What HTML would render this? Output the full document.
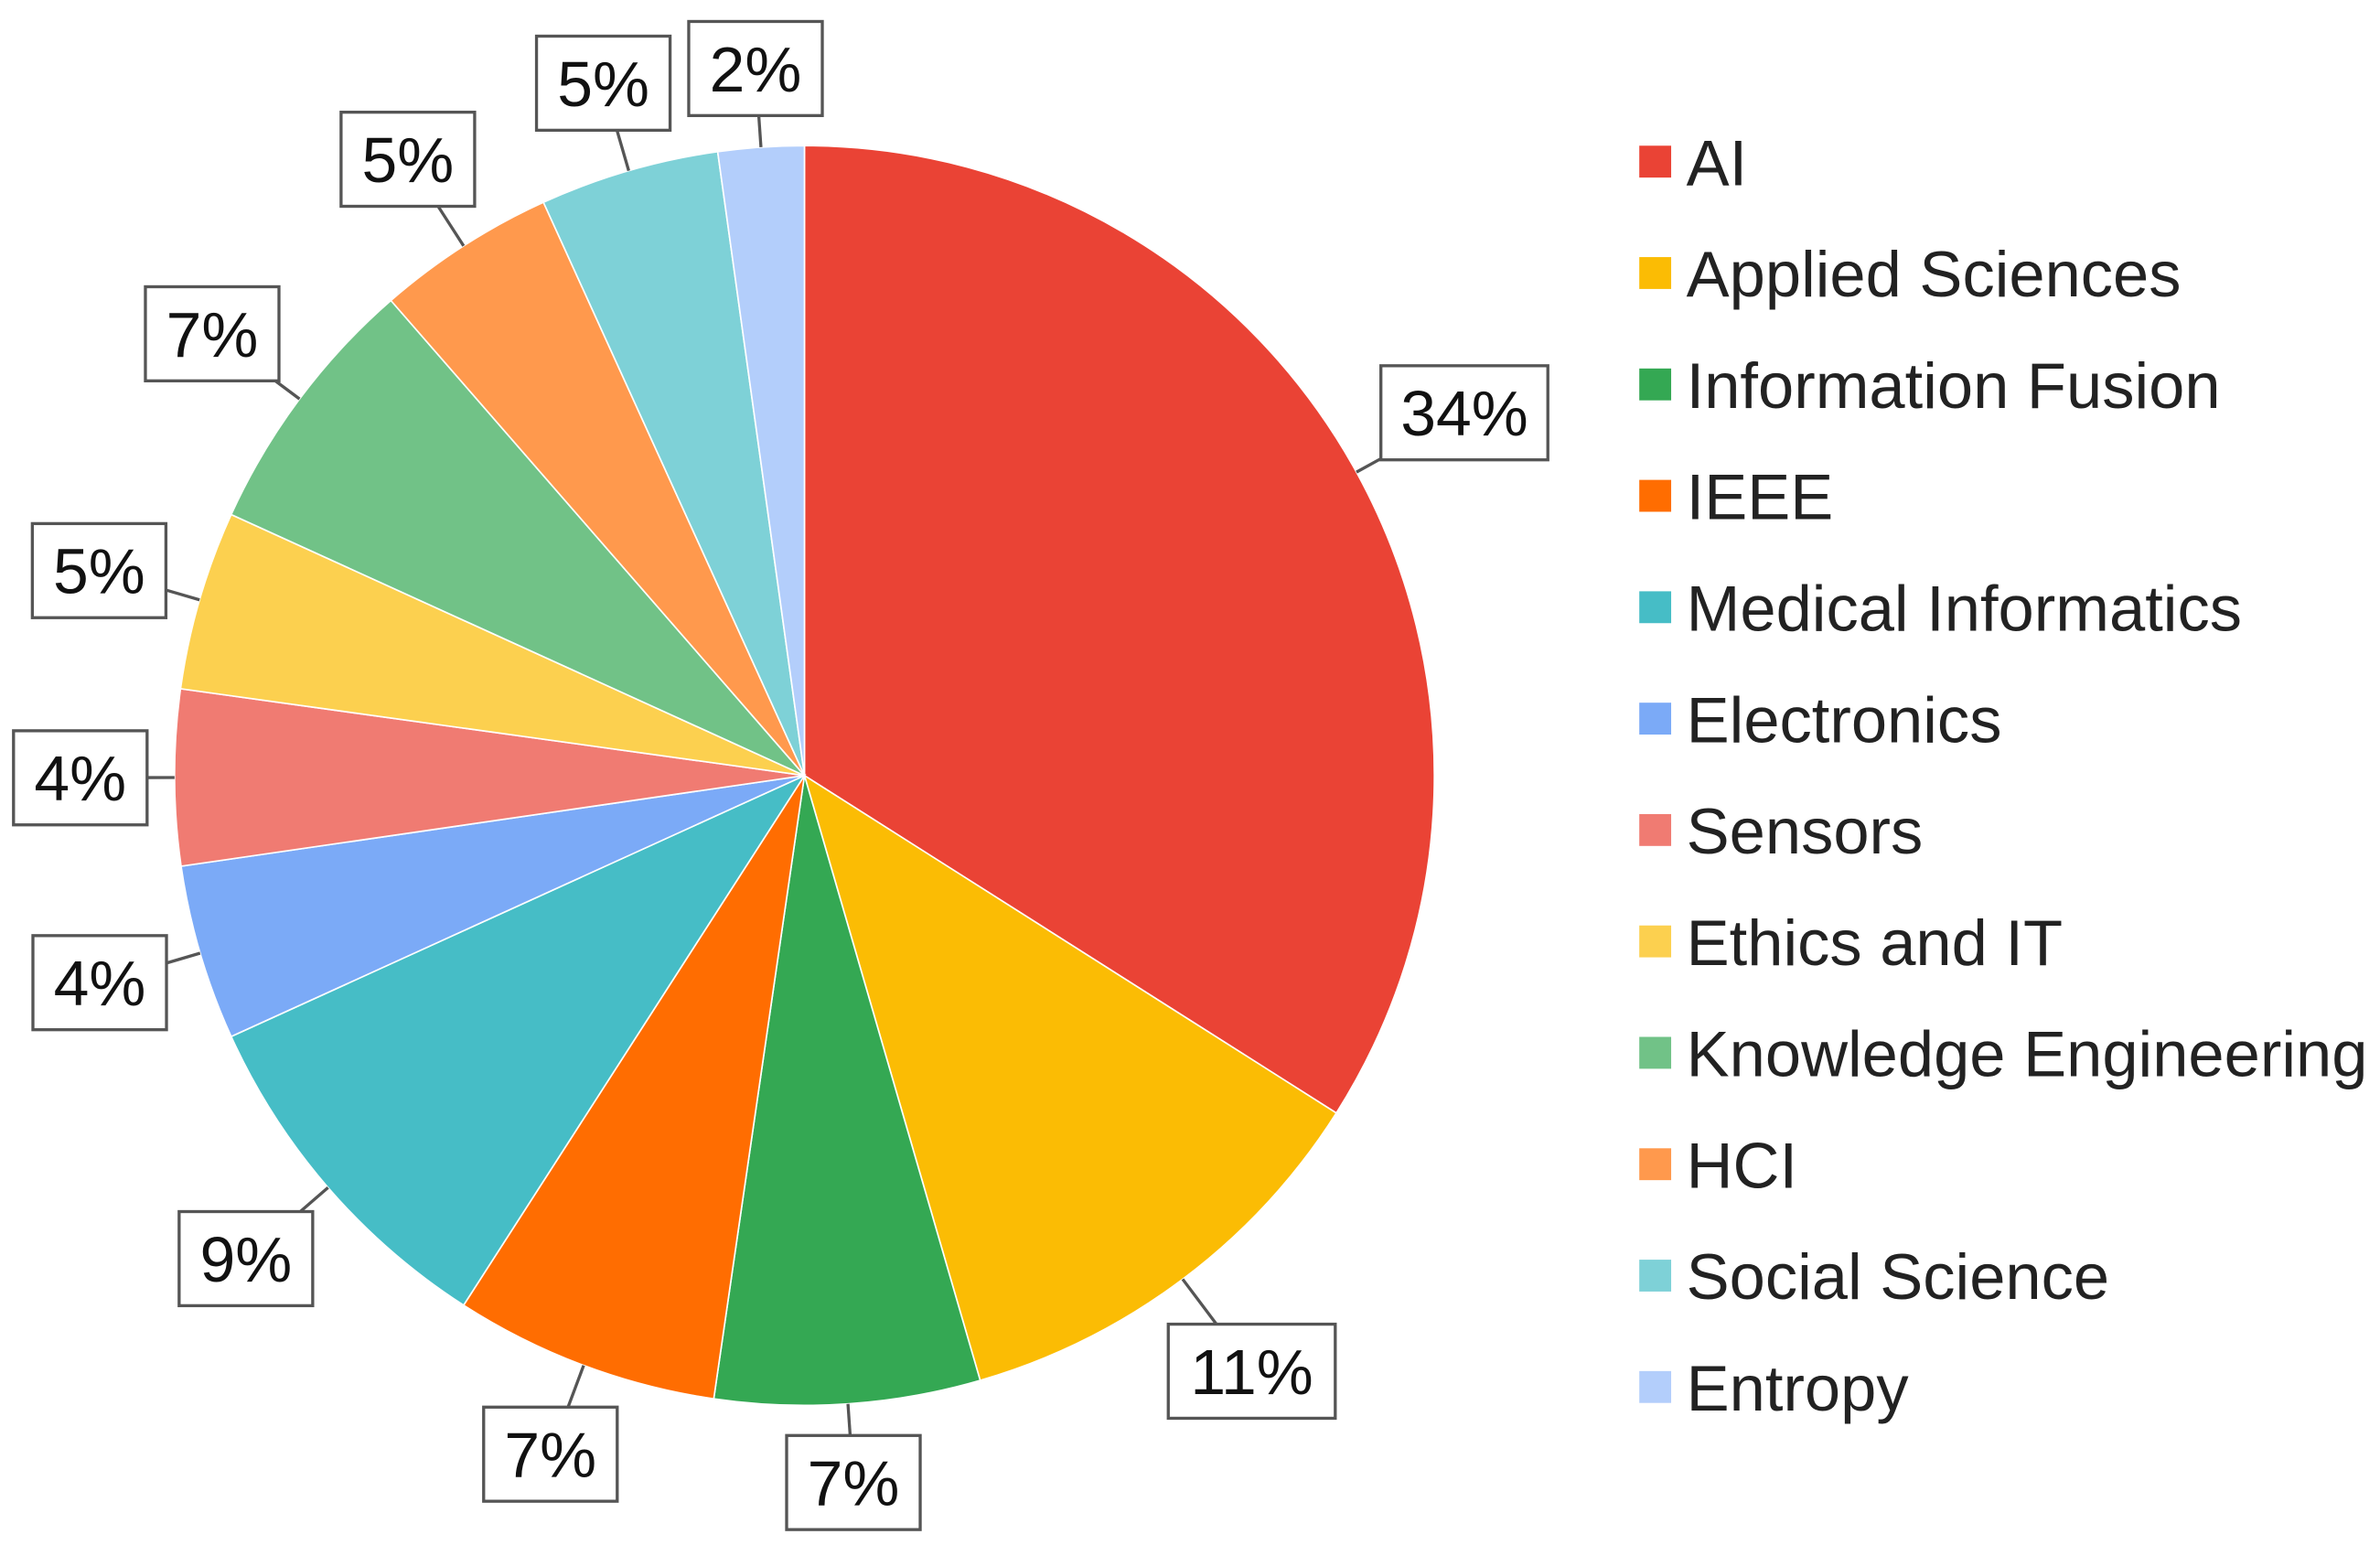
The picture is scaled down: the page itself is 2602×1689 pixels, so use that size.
<!DOCTYPE html>
<html><head><meta charset="utf-8"><style>
html,body{margin:0;padding:0;background:#fff;}
svg{display:block;}
text{font-family:"Liberation Sans",Arial,sans-serif;}
</style></head><body>
<svg id="chart" width="2602" height="1689" viewBox="0 0 1568 1018" preserveAspectRatio="none" xmlns="http://www.w3.org/2000/svg">
<g id="slices"></g>
<g id="labels"></g>
<g id="legend"></g>
</svg>
<script>
const categories = ["AI","Applied Sciences","Information Fusion","IEEE","Medical Informatics","Electronics","Sensors","Ethics and IT","Knowledge Engineering","HCI","Social Science","Entropy"];
const values = [34,11.5,6.8,6.8,9.1,4.5,4.5,4.6,6.8,4.6,4.6,2.2];
const pctLabels = ["34%","11%","7%","7%","9%","4%","4%","5%","7%","5%","5%","2%"];
const colors = ["#EA4335","#FBBC04","#34A853","#FF6D01","#46BDC6","#7BAAF7","#F07B72","#FCD04F","#71C287","#FF994D","#7ED1D7","#B3CEFB"];

const NS="http://www.w3.org/2000/svg";
const cx=530, cy=511, R=415;
const total=values.reduce((a,b)=>a+b,0);
function pt(a,r){return [cx+r*Math.sin(a), cy-r*Math.cos(a)];}
const gs=document.getElementById('slices'), gl=document.getElementById('labels'), gg=document.getElementById('legend');
let acc=0;
values.forEach((v,i)=>{
  const a0=acc/total*2*Math.PI; acc+=v; const a1=acc/total*2*Math.PI;
  const p0=pt(a0,R), p1=pt(a1,R);
  const large=(a1-a0)>Math.PI?1:0;
  const p=document.createElementNS(NS,'path');
  p.setAttribute('d',`M${cx},${cy} L${p0[0]},${p0[1]} A${R},${R} 0 ${large} 1 ${p1[0]},${p1[1]} Z`);
  p.setAttribute('fill',colors[i]);
  p.setAttribute('stroke','#fff');p.setAttribute('stroke-width','1');
  
  
  gs.appendChild(p);
  const am=(a0+a1)/2;
  const w=pctLabels[i].length>2?110:88, h=62;
  const ext=Math.abs(Math.sin(am))*w/2+Math.abs(Math.cos(am))*h/2;
  const rc=R+18+ext;
  const e=pt(am,R), m=pt(am,R+16), c=pt(am,rc);
  const ln=document.createElementNS(NS,'polyline');
  ln.setAttribute('points',`${e[0]},${e[1]} ${m[0]},${m[1]} ${c[0]},${c[1]}`);
  ln.setAttribute('fill','none');ln.setAttribute('stroke','#555');ln.setAttribute('stroke-width','2');
  
  
  gl.appendChild(ln);
  const r=document.createElementNS(NS,'rect');
  r.setAttribute('x',c[0]-w/2);r.setAttribute('y',c[1]-h/2);r.setAttribute('width',w);r.setAttribute('height',h);
  r.setAttribute('fill','#fff');r.setAttribute('stroke','#555');r.setAttribute('stroke-width','2');
  
  
  gl.appendChild(r);
  const t=document.createElementNS(NS,'text');
  t.setAttribute('x',c[0]);t.setAttribute('y',c[1]+15);t.setAttribute('text-anchor','middle');
  t.setAttribute('font-size','42');t.setAttribute('fill','#111');
  t.textContent=pctLabels[i];
  
  
  gl.appendChild(t);
  const y=107+i*73.4;
  const s=document.createElementNS(NS,'rect');
  s.setAttribute('x',1080);s.setAttribute('y',y-11);s.setAttribute('width',21);s.setAttribute('height',21);
  s.setAttribute('fill',colors[i]);
  
  
  gg.appendChild(s);
  const lt=document.createElementNS(NS,'text');
  lt.setAttribute('x',1111);lt.setAttribute('y',y+15);lt.setAttribute('font-size','42.5');lt.setAttribute('fill','#222');
  lt.textContent=categories[i];
  
  
  gg.appendChild(lt);
});
</script>
</body></html>
